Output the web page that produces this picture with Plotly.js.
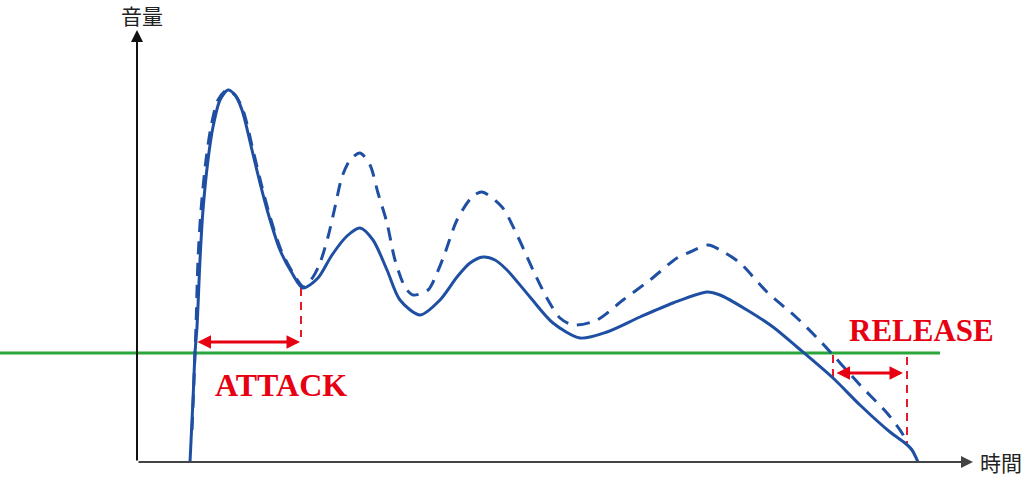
<!DOCTYPE html>
<html>
<head>
<meta charset="utf-8">
<script src="https://cdn.plot.ly/plotly-3.0.1.min.js"></script>
<style>html,body{margin:0;padding:0;background:#fff;}#chart{width:1024px;height:478px;}</style>
</head>
<body>
<div id="chart"></div>
<script>
// time / volume units (origin at the axes' crossing)
const solidT = [53,56,58,60,63,66,71,76,83,91,98,105,115,123,131,143,155,166,181,195,210,223,236,250,263,283,303,320,333,346,358,370,393,416,443,470,503,536,570,583,610,636,660,696,723,753,768,775,781];
const solidV = [0,62,109,135,202,252,302,335,362,372,367,352,312,279,249,212,189,174,184,207,226,234,222,192,162,147,162,185,199,205,202,192,165,139,124,130,145,159,170,167,152,135,115,84,57,30,19,12,0];

const dashT = [55,57,58,59,61,64,69,74,81,90,98,106,116,124,132,144,156,167,176,183,191,198,205,213,223,233,241,250,258,268,276,291,300,308,320,335,345,365,381,396,411,423,436,460,486,513,540,553,571,585,603,630,660,685,723,750,765,770];
const dashV = [32,82,109,135,202,252,302,335,362,372,367,352,312,279,249,212,189,175,185,199,225,255,285,302,309,297,269,239,202,175,167,172,189,209,242,265,270,255,225,192,162,144,137,142,162,182,204,210,217,211,199,170,144,119,77,49,29,19];

const thresholdT = [-137, 803];
const thresholdV = [109, 109];

const attackMarkT = [164, 164];
const attackMarkV = [174, 125];
const releaseStartT = [696, 696];
const releaseStartV = [107, 82];
const releaseEndT = [770, 770];
const releaseEndV = [105, 19];

const attackSpan = [59, 163, 120];   // from, to, level
const releaseSpan = [698, 766, 89];
const axisEnds = {x: 836, y: 432};

const labels = {y: '音量', x: '時間', attack: 'ATTACK', release: 'RELEASE'};

const blue = '#1f4fa3';
const red = '#e60012';
const green = '#2aa63a';

const traces = [
  {x: thresholdT, y: thresholdV, mode: 'lines', line: {color: green, width: 3}},
  {x: attackMarkT, y: attackMarkV, mode: 'lines', line: {color: red, width: 1.8, dash: '8px,6px'}},
  {x: releaseStartT, y: releaseStartV, mode: 'lines', line: {color: red, width: 1.8, dash: '8px,6px'}},
  {x: releaseEndT, y: releaseEndV, mode: 'lines', line: {color: red, width: 1.8, dash: '8px,6px'}},
  {x: solidT, y: solidV, mode: 'lines', line: {color: blue, width: 3, shape: 'spline', smoothing: 0.8}},
  {x: dashT, y: dashV, mode: 'lines', line: {color: blue, width: 3, shape: 'spline', smoothing: 0.8, dash: '13px,9px'}}
];

function arrow(x, y, ax, ay, color, width, size, side) {
  return {x: x, y: y, ax: ax, ay: ay, xref: 'x', yref: 'y', axref: 'x', ayref: 'y',
    showarrow: true, arrowhead: 2, arrowsize: size, arrowwidth: width, arrowcolor: color,
    arrowside: side || 'end', startarrowhead: 2, startarrowsize: size, standoff: 0, startstandoff: 0, text: ''};
}

const annotations = [
  arrow(0, axisEnds.y, 0, 0, '#111', 2, 1.2),
  arrow(axisEnds.x, 0, 0, 0, '#444', 2, 1.2),
  arrow(attackSpan[1], attackSpan[2], attackSpan[0], attackSpan[2], red, 3, 0.9, 'end+start'),
  arrow(releaseSpan[1], releaseSpan[2], releaseSpan[0], releaseSpan[2], red, 3, 0.9, 'end+start'),
  {x: 5, y: 447, xref: 'x', yref: 'y', text: labels.y, showarrow: false, borderpad: 0,
   font: {family: 'Noto Sans CJK JP', size: 21, color: '#222'}},
  {x: 864, y: 0, xref: 'x', yref: 'y', text: labels.x, showarrow: false, borderpad: 0,
   font: {family: 'Noto Sans CJK JP', size: 21, color: '#222'}},
  {x: 144, y: 77, xref: 'x', yref: 'y', text: '<b>' + labels.attack + '</b>', showarrow: false,
   font: {family: 'Liberation Serif', size: 32, color: red}},
  {x: 784, y: 132, xref: 'x', yref: 'y', text: '<b>' + labels.release + '</b>', showarrow: false,
   font: {family: 'Liberation Serif', size: 31, color: red}}
];

const layout = {
  width: 1024, height: 478,
  margin: {l: 0, r: 0, t: 0, b: 0, pad: 0},
  paper_bgcolor: '#fff', plot_bgcolor: '#fff',
  showlegend: false, hovermode: false,
  xaxis: {range: [-137, 887], visible: false, fixedrange: true},
  yaxis: {range: [-16, 462], visible: false, fixedrange: true},
  annotations: annotations
};

Plotly.newPlot('chart', traces, layout, {displayModeBar: false, staticPlot: true});
</script>
</body>
</html>
